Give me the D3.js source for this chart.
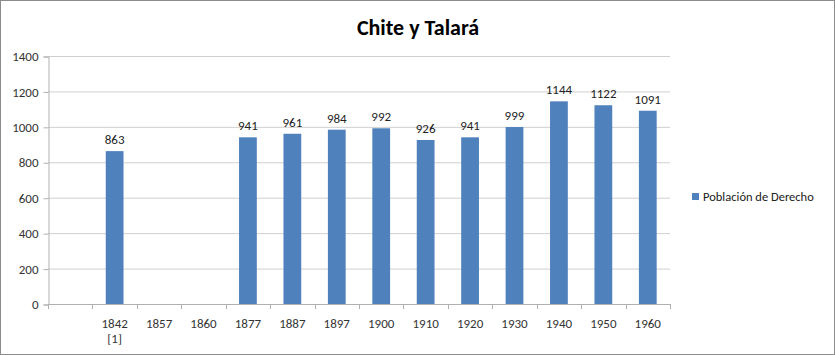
<!DOCTYPE html>
<html lang="es">
<head>
<meta charset="utf-8">
<title>Chite y Talará</title>
<style>
  body { margin: 0; background: #fff; }
  svg text { font-family: Carlito, Calibri, "Open Sans", sans-serif; }
</style>
</head>
<body>
<svg class="chart"></svg>
<script src="https://d3js.org/d3.v7.min.js"></script>
<script>
// categories (first slot is blank in the original chart)
const years = ["", "1842\n[1]", "1857", "1860", "1877", "1887", "1897", "1900", "1910", "1920", "1930", "1940", "1950", "1960"];
const poblacion = [null, 863, null, null, 941, 961, 984, 992, 926, 941, 999, 1144, 1122, 1091];
const yTicks = [0, 200, 400, 600, 800, 1000, 1200, 1400];
const seriesName = "Población de Derecho";
const title = "Chite y Talará";

const W = 835, H = 355;
const margins = { left: 48, right: 165, top: 56, bottom: 51 };
const svg = d3.select(".chart").attr("width", W).attr("height", H);

svg.append("rect")
  .attr("x", 0.5).attr("y", 0.5).attr("width", W - 1).attr("height", H - 1)
  .attr("fill", "#fff").attr("stroke", "#8c8c8c");

const data = years.map((y, i) => ({ year: y, value: poblacion[i] }));

const xScale = d3.scaleBand().domain(years)
  .range([margins.left, W - margins.right]).paddingInner(0.6).paddingOuter(0.3);
const yScale = d3.scaleLinear().domain([0, 1400]).range([H - margins.bottom, margins.top]);

// gridlines
svg.append("g").selectAll("line").data(yTicks.slice(1)).enter().append("line")
  .attr("x1", margins.left).attr("x2", W - margins.right)
  .attr("y1", d => yScale(d) + 0.5).attr("y2", d => yScale(d) + 0.5)
  .attr("stroke", "#d0d0d0");

// y axis
const yAxis = d3.axisLeft(yScale).tickValues(yTicks).tickFormat(d => d).tickSize(5).tickPadding(5);
const gy = svg.append("g").attr("transform", "translate(" + (margins.left + 0.5) + ",0.5)").call(yAxis);
gy.select(".domain").attr("stroke", "#b0b0b0");
gy.selectAll(".tick line").attr("stroke", "#b0b0b0");
gy.selectAll("text").attr("font-size", 13).attr("fill", "#333");

// bars
svg.append("g").selectAll("rect").data(data.filter(d => d.value != null)).enter().append("rect")
  .attr("x", d => xScale(d.year))
  .attr("y", d => yScale(d.value))
  .attr("width", xScale.bandwidth())
  .attr("height", d => yScale(0) - yScale(d.value))
  .attr("fill", "#4f81bd");

// value labels
svg.append("g").selectAll("text").data(data.filter(d => d.value != null)).enter().append("text")
  .attr("x", d => xScale(d.year) + xScale.bandwidth() / 2)
  .attr("y", d => yScale(d.value) - 7)
  .attr("text-anchor", "middle").attr("font-size", 13).attr("fill", "#222")
  .text(d => d.value);

// x axis with ticks between categories
const boundaries = d3.range(years.length + 1).map(i => margins.left + i * (W - margins.right - margins.left) / years.length);
const gx = svg.append("g");
gx.append("line")
  .attr("x1", margins.left).attr("x2", W - margins.right)
  .attr("y1", yScale(0) + 0.5).attr("y2", yScale(0) + 0.5).attr("stroke", "#b0b0b0");
gx.selectAll(".tk").data(boundaries).enter().append("line")
  .attr("x1", d => Math.round(d) + 0.5).attr("x2", d => Math.round(d) + 0.5)
  .attr("y1", yScale(0)).attr("y2", yScale(0) + 5).attr("stroke", "#b0b0b0");
const xl = gx.selectAll(".lbl").data(years).enter().append("text")
  .attr("x", d => xScale(d) + xScale.bandwidth() / 2)
  .attr("y", yScale(0) + 24)
  .attr("text-anchor", "middle").attr("font-size", 13).attr("fill", "#333");
xl.selectAll("tspan").data(d => d.split("\n")).enter().append("tspan")
  .attr("x", function() { return this.parentNode.getAttribute("x"); })
  .attr("dy", (d, i) => i === 0 ? 0 : 15)
  .text(d => d);

// title
svg.append("text").attr("x", 418).attr("y", 35).attr("text-anchor", "middle")
  .attr("font-size", 22).attr("font-weight", "bold").attr("fill", "#000").text(title);

// legend
const lg = svg.append("g").attr("transform", "translate(692,193)");
lg.append("rect").attr("width", 7).attr("height", 7).attr("fill", "#4f81bd");
lg.append("text").attr("x", 11).attr("y", 8).attr("font-size", 12.5).attr("fill", "#222").text(seriesName);
</script>
</body>
</html>
